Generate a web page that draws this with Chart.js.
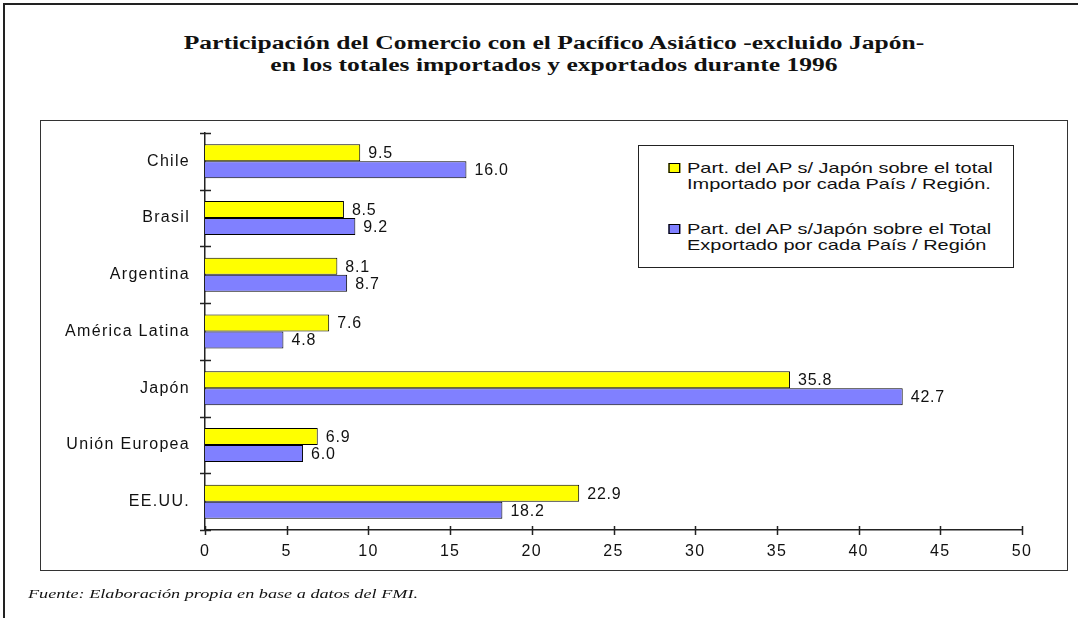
<!DOCTYPE html>
<html lang="es">
<head>
<meta charset="utf-8">
<script src="https://cdn.jsdelivr.net/npm/chart.js@4.4.1/dist/chart.umd.min.js"></script>
<style>
  body { margin: 0; background: #fff; }
  #pagina { position: relative; width: 1078px; height: 618px; overflow: hidden; background: #fff; }
  #borde { position: absolute; left: 3px; top: 3px; width: 1100px; height: 640px; border-left: 2px solid #222; border-top: 2px solid #222; }
  #marco { position: absolute; left: 40px; top: 120px; width: 1026px; height: 449px; border: 1.5px solid #333; }
  #grafico { position: absolute; left: 0; top: 0; }
  #titulo { position: absolute; left: 0; top: 32px; width: 1108px; text-align: center; font: bold 18px "Liberation Serif", serif; line-height: 22px; color: #111; transform: scaleX(1.42); transform-origin: 554px 0; }
  #leyenda { position: absolute; left: 638px; top: 145px; width: 374px; height: 121px; border: 1px solid #222; background: #fff; font: 15px "Liberation Sans", Arial, sans-serif; color: #111; }
  .item { position: absolute; left: 48px; line-height: 16px; white-space: nowrap; transform: scaleX(1.33); transform-origin: 0 0; }
  .cuadro { position: absolute; left: -14px; top: 3px; width: 7px; height: 8px; border: 1px solid #000; }
  #fuente { position: absolute; left: 28px; top: 586px; font: italic 13px "Liberation Serif", serif; color: #111; white-space: nowrap; transform: scaleX(1.40); transform-origin: 0 0; }
</style>
</head>
<body>
<div id="pagina">
  <div id="borde"></div>
  <div id="titulo">Participación del Comercio con el Pacífico Asiático -excluido Japón-<br>en los totales importados y exportados durante 1996</div>
  <div id="marco"></div>
  <canvas id="grafico" width="1078" height="618"></canvas>
  <div id="leyenda">
    <div class="item" style="top:14px"><span class="cuadro" style="background:#ffff00"></span>Part. del AP s/ Japón sobre el total<br>Importado por cada País / Región.</div>
    <div class="item" style="top:75px"><span class="cuadro" style="background:#8080ff"></span>Part. del AP s/Japón sobre el Total<br>Exportado por cada País / Región</div>
  </div>
  <div id="fuente">Fuente: Elaboración propia en base a datos del FMI.</div>
</div>
<script>
const categorias = ['Chile', 'Brasil', 'Argentina', 'América Latina', 'Japón', 'Unión Europea', 'EE.UU.'];
const importado = [9.5, 8.5, 8.1, 7.6, 35.8, 6.9, 22.9];
const exportado = [16.0, 9.2, 8.7, 4.8, 42.7, 6.0, 18.2];
const ticksX = [0, 5, 10, 15, 20, 25, 30, 35, 40, 45, 50];

const fuenteEjes = { family: 'Liberation Sans', size: 16 };

// el original tiene el texto algo ensanchado
const espaciado = {
  id: 'espaciado',
  beforeDraw(chart) {
    chart.ctx.letterSpacing = '1.3px';
  }
};

// marcas cruzadas sobre los ejes, como en el original
const marcasEjes = {
  id: 'marcasEjes',
  afterDraw(chart) {
    const { ctx, chartArea, scales: { x, y } } = chart;
    ctx.save();
    ctx.strokeStyle = '#222';
    ctx.lineWidth = 1.5;
    ctx.beginPath();
    ticksX.forEach(v => {
      const px = Math.round(x.getPixelForValue(v)) + 0.5;
      ctx.moveTo(px, chartArea.bottom - 4);
      ctx.lineTo(px, chartArea.bottom + 5);
    });
    for (let i = 0; i <= categorias.length; i++) {
      const py = Math.round(y.getPixelForValue(i - 0.5)) + 0.5;
      ctx.moveTo(chartArea.left - 5, py);
      ctx.lineTo(chartArea.left + 6, py);
    }
    ctx.stroke();
    ctx.restore();
  }
};

// etiquetas con el valor al final de cada barra
const etiquetasValores = {
  id: 'etiquetasValores',
  afterDatasetsDraw(chart) {
    const { ctx } = chart;
    ctx.save();
    ctx.font = '16px "Liberation Sans"';
    ctx.letterSpacing = '0.8px';
    ctx.fillStyle = '#111';
    ctx.textAlign = 'left';
    ctx.textBaseline = 'middle';
    chart.data.datasets.forEach((ds, i) => {
      chart.getDatasetMeta(i).data.forEach((barra, j) => {
        ctx.fillText(ds.data[j].toFixed(1), barra.x + 8, barra.y + 1);
      });
    });
    ctx.restore();
  }
};

const ctx = document.getElementById('grafico').getContext('2d');
new Chart(ctx, {
  type: 'bar',
  data: {
    labels: categorias,
    datasets: [
      { label: 'Part. del AP s/ Japón sobre el total Importado por cada País / Región.', data: importado, backgroundColor: '#ffff00', borderColor: '#000', borderWidth: 1 },
      { label: 'Part. del AP s/Japón sobre el Total Exportado por cada País / Región', data: exportado, backgroundColor: '#8080ff', borderColor: '#000', borderWidth: 1 }
    ]
  },
  options: {
    indexAxis: 'y',
    responsive: false,
    animation: false,
    categoryPercentage: 0.6,
    barPercentage: 1.0,
    layout: { padding: { top: 133, right: 56, bottom: 58, left: 0 } },
    plugins: {
      legend: { display: false },
      tooltip: { enabled: false }
    },
    scales: {
      x: {
        min: 0,
        max: 50,
        afterBuildTicks: s => { s.ticks = ticksX.map(v => ({ value: v })); },
        ticks: { font: fuenteEjes, color: '#111', padding: 12, maxRotation: 0 },
        grid: { display: false, drawTicks: false },
        border: { display: true, color: '#222', width: 1.5 },
        afterFit: s => { s.height = 30; }
      },
      y: {
        ticks: { font: fuenteEjes, color: '#111', padding: 15 },
        grid: { display: false, drawTicks: false },
        border: { display: true, color: '#222', width: 1.5 },
        afterFit: s => { s.width = 205; }
      }
    }
  },
  plugins: [espaciado, marcasEjes, etiquetasValores]
});
</script>
</body>
</html>
